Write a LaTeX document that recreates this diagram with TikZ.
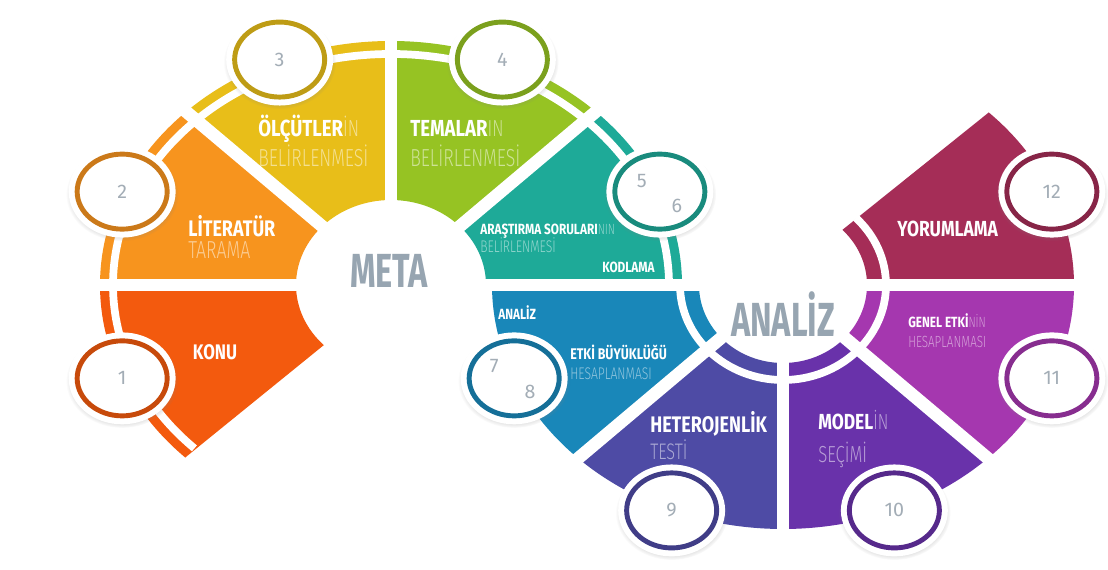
\documentclass[tikz,border=0pt]{standalone}
\usepackage{fontspec}
\setmainfont{Fira Sans}
\newfontfamily\basfont[FakeStretch=0.68]{Fira Sans}
\newfontfamily\kalinfont[FakeStretch=0.8]{Fira Sans}
\newfontfamily\incefont[FakeStretch=0.72]{Fira Sans Light}
\usetikzlibrary{shapes.geometric,shadows}

\definecolor{konu}{HTML}{F35A0E}
\definecolor{tarama}{HTML}{F7941E}
\definecolor{olcut}{HTML}{E8BE19}
\definecolor{tema}{HTML}{96C323}
\definecolor{kodla}{HTML}{1EAA98}
\definecolor{etki}{HTML}{1987B9}
\definecolor{hetero}{HTML}{4E4BA5}
\definecolor{model}{HTML}{6932AA}
\definecolor{genel}{HTML}{A537AF}
\definecolor{yorum}{HTML}{A52D57}
\definecolor{baslikgri}{HTML}{97A5B1}
\definecolor{rakamgri}{HTML}{A3ADB6}
\colorlet{soluk}{white}

\newcommand\ince[1]{{\incefont\mdseries\color{soluk}#1}}
\newcommand\boy[1]{\fontsize{#1}{#1}\selectfont}

\tikzset{
  bosluk/.style={draw=white, line width=9pt},
  serit/.style={draw=white, line width=5.5pt},
  rozet/.style={ellipse, minimum width=2.25cm, minimum height=1.875cm, inner sep=0pt,
    circular drop shadow={shadow scale=1.25, opacity=.32, shadow xshift=0pt, shadow yshift=-1.5pt},
    preaction={draw=white, line width=12pt},
    fill=white, draw=#1!82!black, line width=3.5pt,
    text=rakamgri, font=\boy{14}},
  rakam/.style={text=rakamgri, font=\boy{14}, inner sep=0pt},
  etiket/.style={text=white, inner sep=0pt, anchor=base west,
    execute at begin node={\colorlet{soluk}{white!52!#1}}},
  kalin/.style={font=\kalinfont\bfseries\boy{#1}},
  hafif/.style={font=\incefont\boy{#1}},
  baslik/.style={text=baslikgri, font=\basfont\bfseries\boy{34}, inner sep=0pt, anchor=base}
}

\begin{document}
\begin{tikzpicture}[x=0.025cm, y=0.025cm]
  \useasboundingbox (0,0) rectangle (1108,570);
  \fill[white] (0,0) rectangle (1108,570);

  \coordinate (meta) at (391,285);
  \coordinate (analiz) at (783,285);

  %% meta half
  \begin{scope}[shift={(meta)}]
    \foreach \a/\b/\renk in {180/225/konu, 135/180/tarama, 90/135/olcut, 45/90/tema, 0/45/kodla}
      \fill[\renk] (\a:291 and 244) arc[start angle=\a, end angle=\b, x radius=291, y radius=244]
        -- (\b:95 and 85) arc[start angle=\b, end angle=\a, x radius=95, y radius=85] -- cycle;
    \draw[serit] (0:278 and 231) arc[start angle=0, end angle=225, x radius=278, y radius=231];
    \foreach \a in {0,45,90,135,180}
      \draw[bosluk] (\a:70 and 60) -- (\a:305 and 258);

    \node[rozet=konu] (r1) at (202.5:291 and 244) {1};
    \node[rozet=tarama] (r2) at (157.5:291 and 244) {2};
    \node[rozet=olcut] (r3) at (112.5:291 and 244) {3};
    \node[rozet=tema] (r4) at (67.5:291 and 244) {4};
    \node[rozet=kodla] (r56) at (22.5:291 and 244) {};
  \end{scope}

  %% analiz half
  \begin{scope}[shift={(analiz)}]
    \foreach \a/\b/\renk in {180/225/etki, 225/270/hetero, 270/315/model, 315/360/genel, 360/405/yorum}
      \fill[\renk] (\a:291 and 244) arc[start angle=\a, end angle=\b, x radius=291, y radius=244]
        -- (\b:84 and 78) arc[start angle=\b, end angle=\a, x radius=84, y radius=78] -- cycle;
    \draw[serit] (180:103 and 95) arc[start angle=180, end angle=405, x radius=103, y radius=95];
    \foreach \a in {180,225,270,315,360}
      \draw[bosluk] (\a:70 and 60) -- (\a:305 and 258);

    \node[rozet=etki] (r78) at (202.5:291 and 244) {};
    \node[rozet=hetero] (r9) at (247.5:291 and 244) {9};
    \node[rozet=model] (r10) at (292.5:291 and 244) {10};
    \node[rozet=genel] (r11) at (337.5:291 and 244) {11};
    \node[rozet=yorum] (r12) at (22.5:291 and 244) {12};
  \end{scope}

  % two steps share one badge
  \node[rakam] (n5) at ([shift={(-18,11)}]r56.center) {5};
  \node[rakam] (n6) at ([shift={(17,-14)}]r56.center) {6};
  \node[rakam] (n7) at ([shift={(-20,12)}]r78.center) {7};
  \node[rakam] (n8) at ([shift={(16,-14)}]r78.center) {8};

  %% labels
  \node[etiket=konu, kalin=15, anchor=base] (konu) at (215,210) {KONU};

  \node[etiket=tarama, kalin=16] (lit) at (188,333) {LİTERATÜR};
  \node[etiket=tarama, hafif=17.5] (tar) at (188,311) {\ince{TARAMA}};

  \node[etiket=olcut, kalin=16.5] (olc) at (258,433) {ÖLÇÜTLER\ince{İN}};
  \node[etiket=olcut, hafif=17.5] (olcb) at (258,403) {\ince{BELİRLENMESİ}};

  \node[etiket=tema, kalin=16.5] (tem) at (410,433) {TEMALAR\ince{IN}};
  \node[etiket=tema, hafif=17.5] (temb) at (410,403) {\ince{BELİRLENMESİ}};

  \node[etiket=kodla, kalin=10.5] (ara) at (480,335) {ARAŞTIRMA SORULARI\ince{NIN}};
  \node[etiket=kodla, hafif=12] (arab) at (480,317) {\ince{BELİRLENMESİ}};
  \node[etiket=kodla, kalin=10.5] (kod) at (602,297) {KODLAMA};

  \node[etiket=etki, kalin=10.5] (anl) at (498,250) {ANALİZ};
  \node[etiket=etki, kalin=11] (etk) at (570,210) {ETKİ BÜYÜKLÜĞÜ};
  \node[etiket=etki, hafif=12] (etkb) at (570,190) {\ince{HESAPLANMASI}};

  \node[etiket=hetero, kalin=16] (het) at (650,137) {HETEROJENLİK};
  \node[etiket=hetero, hafif=16] (hetb) at (650,110) {\ince{TESTİ}};

  \node[etiket=model, kalin=15.5] (mod) at (818,140) {MODEL\ince{İN}};
  \node[etiket=model, hafif=16.5] (modb) at (818,107) {\ince{SEÇİMİ}};

  \node[etiket=genel, kalin=10.5] (gen) at (908,242) {GENEL ETKİ\ince{NİN}};
  \node[etiket=genel, hafif=11.5] (genb) at (908,222) {\ince{HESAPLANMASI}};

  \node[etiket=yorum, kalin=15.5] (yor) at (897,333) {YORUMLAMA};

  %% titles
  \node[baslik] (tmeta) at (389,282) {META};
  \node[baslik] (tanaliz) at (783,233) {ANALİZ};
\end{tikzpicture}
\end{document}
